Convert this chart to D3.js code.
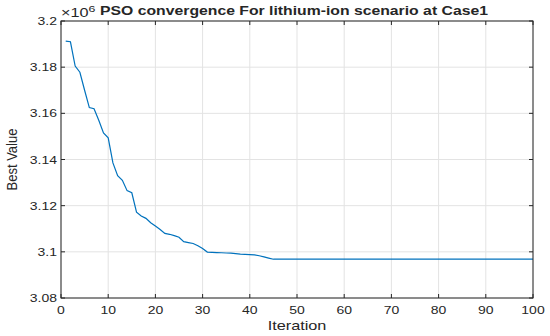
<!DOCTYPE html>
<html><head><meta charset="utf-8">
<script src="https://cdn.jsdelivr.net/npm/d3@7"></script>
<style>body{margin:0;background:#fff}svg{display:block}text{font-family:"Liberation Sans",Arial,sans-serif;fill:#262626}</style>
</head><body><svg id="c" width="550" height="336"></svg>
<script>
const title = "PSO convergence For lithium-ion scenario at Case1";
const xLabel = "Iteration";
const yLabel = "Best Value";
const xTicks = [0,10,20,30,40,50,60,70,80,90,100];
const yTicks = [3.08e6,3.10e6,3.12e6,3.14e6,3.16e6,3.18e6,3.20e6];
const yTickLabels = ["3.08","3.1","3.12","3.14","3.16","3.18","3.2"];
const iterations = d3.range(1,101);
const bestValue = [
3191300,3191000,3180500,3177800,3170000,3162500,3162000,3157000,3151500,3149400,
3138500,3133000,3131000,3126500,3125600,3117200,3115500,3114500,3112600,3111200,
3109700,3108000,3107600,3107000,3106300,3104400,3104000,3103600,3102600,3101400,
3099900,3099800,3099700,3099600,3099500,3099400,3099200,3099000,3098900,3098800,
3098700,3098300,3097800,3097300,3096800,
3096800,3096800,3096800,3096800,3096800,3096800,3096800,3096800,3096800,3096800,
3096800,3096800,3096800,3096800,3096800,3096800,3096800,3096800,3096800,3096800,
3096800,3096800,3096800,3096800,3096800,3096800,3096800,3096800,3096800,3096800,
3096800,3096800,3096800,3096800,3096800,3096800,3096800,3096800,3096800,3096800,
3096800,3096800,3096800,3096800,3096800,3096800,3096800,3096800,3096800,3096800,
3096800,3096800,3096800,3096800,3096800];

const L=61,R=533,T=21,B=298, SX=1.25;
const svg=d3.select("#c");
const x=d3.scaleLinear().domain([0,100]).range([L,R]);
const y=d3.scaleLinear().domain([3.08e6,3.2e6]).range([B,T]);

function stext(g,tx,ty,str,opts){
  const t=g.append("text").attr("transform",`translate(${tx},${ty}) scale(${opts.sx||SX},1)${opts.rot?" rotate("+opts.rot+")":""}`)
   .attr("font-size",opts.size).attr("text-anchor",opts.anchor||"middle").text(str);
  if(opts.bold) t.attr("font-weight","bold");
  return t;
}
// grid
const grid=svg.append("g").attr("stroke","#e3e3e3").attr("stroke-width",1);
xTicks.forEach(v=>grid.append("line").attr("x1",x(v)).attr("x2",x(v)).attr("y1",T).attr("y2",B));
yTicks.forEach(v=>grid.append("line").attr("x1",L).attr("x2",R).attr("y1",y(v)).attr("y2",y(v)));

// line
svg.append("path").datum(iterations.map((d,i)=>[d,bestValue[i]]))
 .attr("fill","none").attr("stroke","#0072BD").attr("stroke-width",1.2)
 .attr("d",d3.line().x(d=>x(d[0])).y(d=>y(d[1])));

// axes
const ax=svg.append("g").attr("stroke","#262626").attr("stroke-width",1).attr("fill","none");
ax.append("rect").attr("x",L).attr("y",T).attr("width",R-L).attr("height",B-T);
const tl=4;
xTicks.forEach(v=>{ax.append("line").attr("x1",x(v)).attr("x2",x(v)).attr("y1",B).attr("y2",B-tl);
 ax.append("line").attr("x1",x(v)).attr("x2",x(v)).attr("y1",T).attr("y2",T+tl);});
yTicks.forEach(v=>{ax.append("line").attr("x1",L).attr("x2",L+tl).attr("y1",y(v)).attr("y2",y(v));
 ax.append("line").attr("x1",R).attr("x2",R-tl).attr("y1",y(v)).attr("y2",y(v));});

const tg=svg.append("g");
xTicks.forEach(v=>stext(tg,x(v),314,String(v),{size:11.2}));
yTicks.forEach((v,i)=>stext(tg,L-4,y(v)+4,yTickLabels[i],{size:11.2,anchor:"end"}));
stext(tg,(L+R)/2,330,xLabel,{size:13});
stext(tg,17,(T+B)/2,yLabel,{size:13,rot:-90,sx:1.1});
// title fitted to reference width
const tt=stext(tg,294,15,title,{size:12.5,bold:true,sx:1});
const tw=tt.node().getComputedTextLength();
tt.attr("transform",`translate(294,15) scale(${388/tw},1)`);
const ex=stext(tg,61,17,"",{size:12.5,anchor:"start",sx:1.3});
ex.append("tspan").text("×10");
ex.append("tspan").attr("dy",-5).attr("font-size",9.5).text("6");
</script></body></html>
